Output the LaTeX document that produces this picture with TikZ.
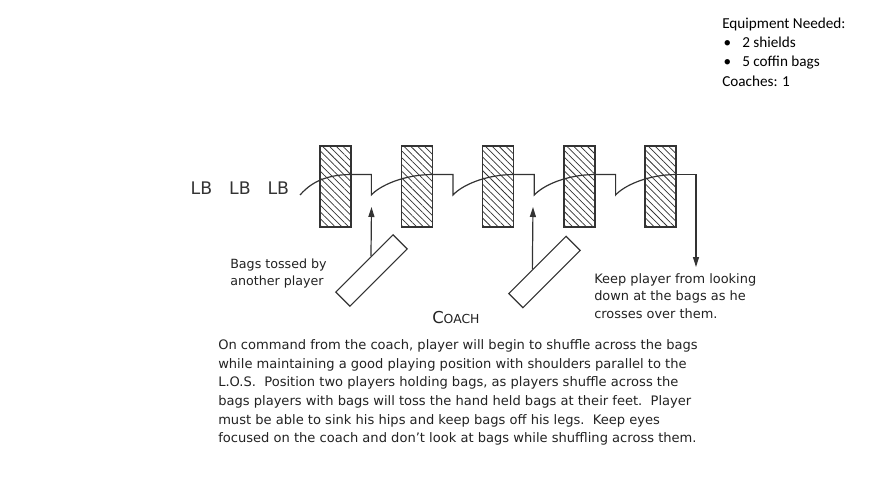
\documentclass[tikz,border=0pt]{standalone}
\usepackage{fontspec}
\setmainfont{DejaVu Sans}
\newfontfamily\calibfont{Carlito}
\usetikzlibrary{patterns.meta,arrows.meta,calc}

\definecolor{inkgray}{HTML}{333333}
\definecolor{textgray}{HTML}{222222}

\tikzset{
	coffin/.style={draw=inkgray, line width=1.1pt, minimum width=23.25pt, minimum height=60.75pt, inner sep=0pt,
		pattern={Lines[angle=-45,distance=3.6pt,line width=0.55pt]}, pattern color=inkgray},
	tossbag/.style={draw=inkgray, line width=0.9pt, minimum width=60.75pt, minimum height=15pt, inner sep=0pt, rotate=45},
	run/.style={draw=inkgray, line width=0.9pt},
	tossarrow/.style={draw=inkgray, line width=0.9pt, -{Triangle[length=7.5pt,width=4.5pt]}},
	lbtext/.style={font=\fontsize{13}{15}\selectfont, text=inkgray, inner sep=0pt, anchor=base},
	% multi-line notes are placed by the baseline of their last line
	note/.style={font=\fontsize{9.7}{13.2}\selectfont, text=textgray, align=left, inner sep=0pt, anchor=base west},
}

\begin{document}
\begin{tikzpicture}[x=0.75pt, y=-0.75pt]
	\useasboundingbox (0,0) rectangle (886,489);

	% coffin bags
	\foreach \i in {1,...,5}
		\node[coffin] (bag\i) at ({335.5+81.3*(\i-1)}, 186.5) {};
	\foreach \i in {1,...,4}
		\coordinate (drop\i) at ($(bag\i.east)+(20,8.5)$);

	% linebackers
	\node[lbtext] (lb1) at (201.5,194) {LB};
	\node[lbtext] (lb2) at (240,194) {LB};
	\node[lbtext] (lb3) at (278.3,194) {LB};
	\coordinate (start) at (300,195);
	\coordinate (stop) at (696,267);

	% shuffle path
	\draw[run] (start) .. controls +(8,-9) and +(-30,0) .. ($(bag1.east)+(0,-12)$) -| (drop1)
		.. controls +(8,-9) and +(-30,0) .. ($(bag2.east)+(0,-12)$) -| (drop2)
		.. controls +(8,-9) and +(-30,0) .. ($(bag3.east)+(0,-12)$) -| (drop3)
		.. controls +(8,-9) and +(-30,0) .. ($(bag4.east)+(0,-12)$) -| (drop4)
		.. controls +(8,-9) and +(-30,0) .. ($(bag5.east)+(0,-12)$);
	\draw[tossarrow] ($(bag5.east)+(0,-12)$) -| (stop);

	% hand held bags
	\node[tossbag] (toss1) at (371.5,270.5) {};
	\node[tossbag] (toss2) at (544.5,272) {};
	\coordinate (up1) at (371.5,207);
	\coordinate (up2) at (533,207);
	\draw[tossarrow] ($(toss1.north west)!0.62!(toss1.north east)$) -- (up1);
	\draw[tossarrow] ($(toss2.north west)!0.42!(toss2.north east)$) -- (up2);

	% labels
	\node[note, font=\fontsize{9.5}{12.75}\selectfont] (tossed) at (230,285.5) {Bags tossed by\\another player};
	\node[note] (keep) at (594,318.5) {Keep player from looking\\down at the bags as he\\crosses over them.};
	\node[text=textgray, inner sep=0pt, anchor=base west] (coach) at (432,323) {\fontsize{12.3}{14}\selectfont C\fontsize{9.3}{14}\selectfont OACH};
	\node[note, font=\fontsize{9.8}{14}\selectfont] (drill) at (218,442.7) {On command from the coach, player will begin to shuffle across the bags\\
		while maintaining a good playing position with shoulders parallel to the\\
		L.O.S.\ \ Position two players holding bags, as players shuffle across the\\
		bags players with bags will toss the hand held bags at their feet.\ \ Player\\
		must be able to sink his hips and keep bags off his legs.\ \ Keep eyes\\
		focused on the coach and don't look at bags while shuffling across them.};

	% equipment
	\node[anchor=base west, inner sep=0pt, align=left, font=\calibfont\fontsize{11.4}{14.4}\selectfont] (equip) at (722,86)
		{Equipment Needed:\\
		\makebox[15pt][l]{\hspace{1pt}\textbullet}2 shields\\
		\makebox[15pt][l]{\hspace{1pt}\textbullet}5 coffin bags\\
		Coaches: 1};
\end{tikzpicture}
\end{document}
